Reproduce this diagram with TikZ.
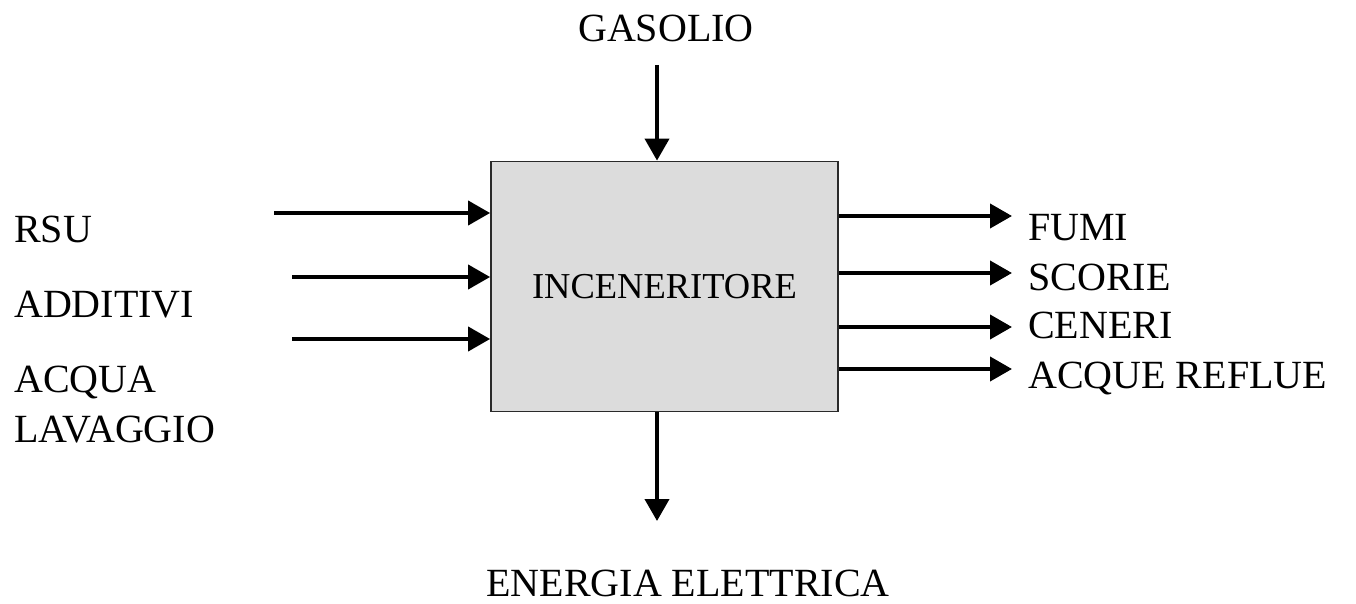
\documentclass[tikz,border=0pt]{standalone}
\usepackage{fontspec}
\setmainfont{Liberation Serif}
\usepackage{xcolor}
\usepackage{tikz}
\usetikzlibrary{arrows.meta,positioning}
\definecolor{cBox}{HTML}{DCDCDC}
\definecolor{cLine}{HTML}{2A2A2A}
\tikzset{
  blk/.style  = {rectangle, draw=cLine, fill=cBox, line width=1.8pt,
                 minimum width=347pt, minimum height=250pt, inner sep=0pt,
                 font=\fontsize{36.5}{42}\selectfont},
  lab/.style  = {inner sep=0pt, font=\fontsize{40}{50}\selectfont, align=left},
  fl/.style   = {-{Triangle[length=22pt,width=24pt]}, draw=black, line width=4pt},
}
\begin{document}
\begin{tikzpicture}[x=1pt,y=-1pt]
  \useasboundingbox (0,0) rectangle (1356,604);
  % ---- PROCESS ----
  \node[blk] (inc) at (664.5,286.5) {\raisebox{-3pt}{INCENERITORE}};

  % ---- INPUT ----
  \node[lab, anchor=base] (gas) at (666,42) {GASOLIO};
  \node[lab, anchor=base west] (rsu) at (14,242) {RSU};
  \node[lab, anchor=base west] (add) at (14,317) {ADDITIVI};
  \node[lab, anchor=base west] (acq) at (14,442) {ACQUA\\LAVAGGIO};
  \coordinate (gasin) at (657,65);
  \coordinate (rsuin) at (274,213);
  \coordinate (addin) at (292,277);
  \coordinate (acqin) at (292,339);

  % ---- OUTPUT ----
  \node[lab, anchor=base west] (fum) at (1028,240) {FUMI};
  \node[lab, anchor=base west] (sco) at (1028,290) {SCORIE};
  \node[lab, anchor=base west] (cen) at (1028,338) {CENERI};
  \node[lab, anchor=base west] (ref) at (1028,388) {ACQUE REFLUE};
  \node[lab, anchor=base] (ene) at (688,596) {ENERGIA ELETTRICA};
  \coordinate (fumout) at (1012,216);
  \coordinate (scoout) at (1012,273);
  \coordinate (cenout) at (1012,327);
  \coordinate (refout) at (1012,369);
  \coordinate (eneout) at (657,521);

  % ---- FLOW ----
  \draw[fl] (gasin) -- (gasin |- inc.north);
  \draw[fl] (rsuin) -- (rsuin -| inc.west);
  \draw[fl] (addin) -- (addin -| inc.west);
  \draw[fl] (acqin) -- (acqin -| inc.west);
  \draw[fl] (fumout -| inc.east) -- (fumout);
  \draw[fl] (scoout -| inc.east) -- (scoout);
  \draw[fl] (cenout -| inc.east) -- (cenout);
  \draw[fl] (refout -| inc.east) -- (refout);
  \draw[fl] (eneout |- inc.south) -- (eneout);
\end{tikzpicture}
\end{document}
